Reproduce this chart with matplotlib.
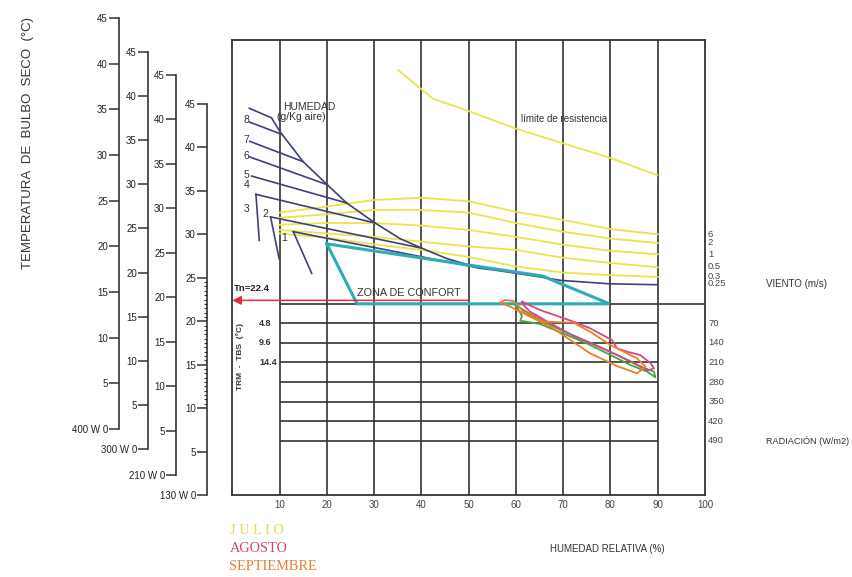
import matplotlib.pyplot as plt
import numpy as np

plt.rcParams['font.family'] = ['Liberation Sans', 'DejaVu Sans']

W, H = 853, 577

# eje horizontal: humedad relativa (%)
hr_ticks = [10, 20, 30, 40, 50, 60, 70, 80, 90, 100]
hr_grid = [10, 20, 30, 40, 50, 60, 70, 80, 90]

# limite de resistencia
lim_hr = [35.1, 40.2, 42.5, 49.9, 59.8, 69.8, 79.9, 89.9]
lim_t = [48.9, 46.6, 45.6, 44.2, 42.2, 40.5, 38.8, 36.8]

# curvas de viento (m/s)
viento_hr = [10, 20, 30, 40, 50, 60, 70, 80, 90]
viento_t = [
    [32.5, 33.2, 33.95, 34.2, 33.8, 32.6, 31.65, 30.6, 30.0],
    [31.9, 32.3, 32.8, 32.8, 32.5, 31.3, 30.3, 29.5, 29.0],
    [31.1, 31.3, 31.3, 31.0, 30.5, 29.7, 28.8, 28.1, 27.7],
    [30.5, 30.1, 29.7, 29.15, 28.6, 28.2, 27.3, 26.7, 26.2],
    [30.1, 29.6, 28.85, 28.2, 27.4, 26.3, 25.6, 25.3, 25.1],
]
viento_labels = ['6', '2', '1', '0.5', '0.3', '0.25']
viento_label_t = [30.0, 29.0, 27.7, 26.35, 25.2, 24.3]

# humedad (g/Kg aire): envolvente y rectas
env_hr = [3.6, 8.3, 10.1, 15.0, 20.1, 24.2, 30.2, 35.5, 40.1, 45.4, 52.4, 55.3, 65.1, 69.4, 79.9, 89.9]
env_t = [44.5, 43.4, 41.8, 38.35, 35.7, 33.6, 31.3, 29.5, 28.4, 27.2, 26.1, 25.9, 25.1, 24.7, 24.3, 24.2]
hum_hr = [[3.7, 10.5], [3.7, 15.0], [3.7, 20.1], [4.1, 24.2], [5.0, 30.2], [5.0, 5.7],
          [8.1, 40.1], [8.1, 9.9], [12.9, 52.4], [12.9, 16.8]]
hum_t = [[42.9, 41.5], [40.7, 38.35], [38.9, 35.7], [36.7, 33.6], [34.6, 31.3], [34.6, 29.3],
         [32.0, 28.4], [32.0, 27.2], [30.3, 26.1], [30.3, 25.5]]
hum_labels = ['8', '7', '6', '5', '4', '3', '2', '1']

# zona de confort
confort_hr = [20.0, 26.4, 79.8, 65.6, 20.0]
confort_t = [28.9, 22.0, 22.0, 25.2, 28.9]
confort_base = 22.0
tn = 22.4

# radiacion (W/m2) y TRM - TBS
rad_t = [19.75, 17.5, 15.25, 13.0, 10.75, 8.5, 6.25]
rad_labels = ['70', '140', '210', '280', '350', '420', '490']
trm_labels = ['4.8', '9.6', '14.4']

# meses
agosto_hr = [61.3, 65.1, 72.2, 75.7, 80.3, 81.4, 83.5, 86.3, 88.5, 89.2, 87.8, 84.9, 81.4, 77.2, 72.2, 67.3, 63.0, 61.6, 61.3]
agosto_t = [22.24, 21.29, 19.94, 19.18, 17.84, 16.88, 16.49, 16.11, 15.16, 14.58, 14.3, 15.22, 16.11, 17.15, 18.3, 19.76, 21.09, 21.86, 22.24]
julio_hr = [59.9, 61.3, 60.9, 65.1, 70.8, 75.7, 80.0, 84.2, 87.8, 89.5, 89.2, 85.6, 81.4, 75.7, 68.7, 63.0, 59.9]
julio_t = [21.86, 20.6, 20.06, 19.68, 18.41, 17.26, 16.11, 14.96, 14.19, 13.54, 14.19, 14.96, 16.11, 17.53, 19.18, 20.83, 21.86]
sept_hr = [56.7, 57.7, 59.5, 61.6, 65.8, 72.2, 75.7, 80.0, 82.8, 85.6, 87.4, 85.6, 81.4, 75.7, 71.5, 67.3, 63.0, 58.8, 56.7]
sept_t = [22.13, 22.44, 22.32, 21.09, 19.94, 19.83, 18.79, 17.26, 16.49, 15.73, 14.77, 14.0, 14.84, 16.3, 17.84, 19.37, 20.52, 21.67, 22.13]

# escalas de temperatura de bulbo seco a la izquierda
escala_w = ['400 W', '300 W', '210 W', '130 W']
escala_ticks = [0, 5, 10, 15, 20, 25, 30, 35, 40, 45]

GRID = '#333333'
AMARILLO = '#ece44a'
AZUL = '#3d4178'
TURQUESA = '#2eacb6'
ROJO = '#e0303c'


def px(x, y):
    # coordenadas de pixel a fraccion de figura
    return x / W, 1 - y / H


fig = plt.figure(figsize=(W / 100, H / 100), dpi=100)
fig.patch.set_facecolor('white')

ax = fig.add_axes([232.3 / W, 1 - 495 / H, (705 - 232.3) / W, 455 / H])
ax.set_xlim(0, 100)
ax.set_ylim(0, 455 / 8.69)
for s in ax.spines.values():
    s.set_color(GRID)
    s.set_linewidth(1.3)
ax.set_yticks([])
ax.set_xticks(hr_ticks)
ax.tick_params(axis='x', length=0, pad=3.5, labelsize=7, labelcolor='#444444')

ymax = ax.get_ylim()[1]
ax.vlines(hr_grid, 0, ymax, color=GRID, lw=1.2)
ax.hlines(confort_base, 10, 100, color=GRID, lw=1.2)
ax.hlines(rad_t, 10, 90, color=GRID, lw=1.2)

# viento
for t in viento_t:
    ax.plot(viento_hr, t, color=AMARILLO, lw=1.3)
ax.plot(lim_hr, lim_t, color=AMARILLO, lw=1.3)

# humedad
ax.plot(env_hr, env_t, color=AZUL, lw=1.2)
for h, t in zip(hum_hr, hum_t):
    ax.plot(h, t, color=AZUL, lw=1.2)

# zona de confort
ax.plot(confort_hr, confort_t, color=TURQUESA, lw=2.2, solid_joinstyle='miter')

# meses
ax.plot(julio_hr, julio_t, color='#44a444', lw=1.3)
ax.plot(agosto_hr, agosto_t, color='#d8468a', lw=1.3)
ax.plot(sept_hr, sept_t, color='#f07c2c', lw=1.3)

# temperatura neutra
ax.annotate('', xy=(0, tn), xytext=(50, tn),
            arrowprops=dict(arrowstyle='-|>', color=ROJO, lw=1.1, mutation_scale=13,
                            shrinkA=0, shrinkB=0))

for lab, t in zip(viento_labels, viento_label_t):
    ax.text(100.6, t, lab, fontsize=6.8, color='#444444', va='center', ha='left', clip_on=False)
for lab, t in zip(rad_labels, rad_t):
    ax.text(100.7, t, lab, fontsize=6.8, color='#444444', va='center', ha='left', clip_on=False)
for lab, t in zip(trm_labels, rad_t):
    ax.text(5.7, t, lab, fontsize=6.5, color='#333333', va='center', ha='left', fontweight='bold')

# etiquetas de humedad
hum_pos = [(246.7, 120), (246.7, 140), (246.7, 156), (246.7, 175), (246.7, 185),
           (246.7, 209), (265, 214), (284.3, 238)]
for lab, (x, y) in zip(hum_labels, hum_pos):
    fig.text(*px(x, y), lab, fontsize=7.5, color='#333333', ha='center', va='center')

fig.text(*px(283, 107.5), 'HUMEDAD', fontsize=7.5, color='#333333', va='center')
fig.text(*px(277, 117), '(g/Kg aire)', fontsize=7.5, color='#333333', va='center')
fig.text(*px(521, 119), 'límite de resistencia', fontsize=7, color='#333333', va='center')
fig.text(*px(357, 293), 'ZONA DE CONFORT', fontsize=7.8, color='#333333', va='center')
fig.text(*px(234, 288.5), 'Tn=22.4', fontsize=6.8, color='#222222', va='center', fontweight='bold')
fig.text(*px(240, 357), 'TRM  -  TBS  (°C)', fontsize=6, color='#333333', va='center', ha='center',
         rotation=90, fontweight='bold')
fig.text(*px(766, 284), 'VIENTO (m/s)', fontsize=7, color='#333333', va='center')
fig.text(*px(766, 441), 'RADIACIÓN (W/m2)', fontsize=6.6, color='#333333', va='center')
fig.text(*px(550, 549), 'HUMEDAD RELATIVA (%)', fontsize=7, color='#333333', va='center')
fig.text(*px(28, 143), 'TEMPERATURA  DE  BULBO  SECO  (°C)', fontsize=9.5, color='#333333',
         va='center', ha='center', rotation=90)

fig.text(*px(230, 531), 'J U L I O', fontsize=10.3, color='#e4dc4a', va='center', family='Liberation Serif')
fig.text(*px(230, 548), 'AGOSTO', fontsize=10.3, color='#d44478', va='center', family='Liberation Serif')
fig.text(*px(229, 566.5), 'SEPTIEMBRE', fontsize=10.3, color='#e0803c', va='center', family='Liberation Serif')

# escalas laterales: (x de la linea, y del 0, y del 45)
escala_pos = [(119, 429, 18), (148, 449, 52), (176, 475, 75), (207, 495, 104)]
for i, (w, (x, y0, y45)) in enumerate(zip(escala_w, escala_pos)):
    e = fig.add_axes([x / W, 1 - y0 / H, 1 / W, (y0 - y45) / H])
    e.set_facecolor('none')
    for k in ['top', 'right', 'bottom']:
        e.spines[k].set_visible(False)
    e.spines['left'].set_color(GRID)
    e.spines['left'].set_linewidth(1.2)
    e.set_xticks([])
    e.set_ylim(0, 45)
    e.set_yticks(escala_ticks)
    e.set_yticklabels([w + ' 0'] + [str(v) for v in escala_ticks[1:]])
    e.tick_params(axis='y', length=7, width=1.1, color=GRID, pad=1, labelsize=7, labelcolor='#222222')
    if i == 3:
        e.set_yticks(np.arange(10, 25.5, 0.5), minor=True)
        e.tick_params(axis='y', which='minor', length=2.5, width=0.8, color=GRID)

fig.savefig('out.png', dpi=100)
